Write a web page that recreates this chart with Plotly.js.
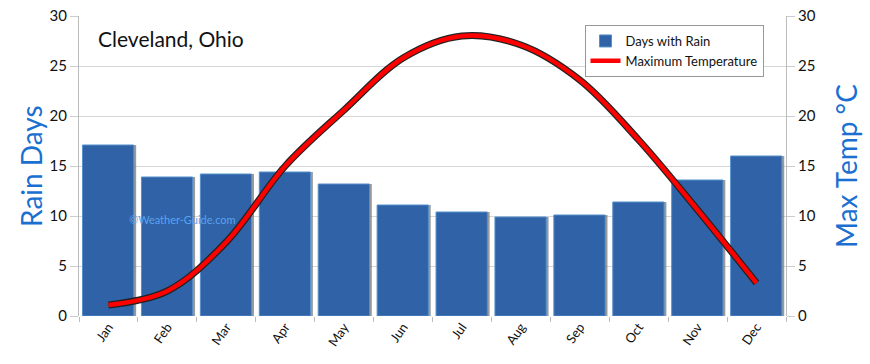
<!DOCTYPE html>
<html><head><meta charset="utf-8">
<script src="https://cdn.plot.ly/plotly-3.0.1.min.js"></script>
<style>html,body{margin:0;padding:0;background:#fff}#chart{width:870px;height:364px}</style>
</head><body><div id="chart"></div>
<script>
const months = ["Jan","Feb","Mar","Apr","May","Jun","Jul","Aug","Sep","Oct","Nov","Dec"];
const rainDays = [17.1, 13.9, 14.2, 14.4, 13.2, 11.1, 10.4, 9.9, 10.1, 11.4, 13.6, 16.0];
const maxTemp = [1.1, 2.5, 7.4, 15.0, 20.6, 25.8, 28.0, 27.1, 23.6, 17.6, 10.6, 3.3];

const font = "Lato, 'Open Sans', sans-serif";
const traces = [
  {type:"bar", x:months, y:rainDays, name:"shadow", showlegend:false, hoverinfo:"skip",
   marker:{color:"rgba(120,120,120,0.75)"}, offset:-0.39, width:0.86, yaxis:"y"},
  {type:"bar", x:months, y:rainDays, name:"Days with Rain",
   marker:{color:"#2f62a6", line:{color:"#5590cb", width:1}}, offset:-0.44, width:0.87, yaxis:"y"},
  {type:"scatter", mode:"lines", x:months, y:maxTemp, yaxis:"y2", showlegend:false, hoverinfo:"skip",
   line:{color:"#222", width:7, shape:"spline", smoothing:1}},
  {type:"scatter", mode:"lines", x:months, y:maxTemp, yaxis:"y2", name:"Maximum Temperature",
   line:{color:"#ff0000", width:4.5, shape:"spline", smoothing:1}}
];
const layout = {
  width:870, height:364,
  margin:{l:79, r:84, t:16, b:48},
  paper_bgcolor:"#fff", plot_bgcolor:"#fff",
  font:{family:font, size:13, color:"#111"},
  barmode:"overlay",
  showlegend:true,
  legend:{x:0.715, y:0.97, xanchor:"left", yanchor:"top", bgcolor:"#fff",
          bordercolor:"#999", borderwidth:1, font:{size:13, color:"#111"}, traceorder:"normal"},
  xaxis:{tickangle:-55, ticks:"outside", tickson:"boundaries", ticklen:5, tickcolor:"#bbb",
         showline:false, showgrid:false, tickfont:{size:13}},
  yaxis:{range:[0,30], dtick:5, showgrid:true, gridcolor:"#d6d6d6", showline:true, linecolor:"#bbb",
         ticks:"outside", ticklen:8, tickcolor:"#ccc", tickfont:{size:15}, zeroline:false,
         title:{text:""}},
  yaxis2:{range:[0,30], dtick:5, overlaying:"y", side:"right", showgrid:false, showline:true,
          linecolor:"#bbb", ticks:"outside", ticklen:8, tickcolor:"#ccc", tickfont:{size:15}, zeroline:false,
          title:{text:"Max Temp °C", font:{size:28, color:"#1a6fd0"}, standoff:22}},
  annotations:[
    {xref:"paper", yref:"paper", x:-0.068, y:0.5, xanchor:"center", yanchor:"middle", showarrow:false,
     textangle:-90, text:"Rain Days", font:{size:28, color:"#1a6fd0"}},
    {xref:"paper", yref:"paper", x:0.024, y:0.925, xanchor:"left", yanchor:"middle", showarrow:false,
     text:"Cleveland, Ohio", font:{size:21, color:"#111"}},
    {xref:"paper", yref:"paper", x:0.068, y:0.32, xanchor:"left", yanchor:"middle", showarrow:false,
     text:"©Weather-Guide.com", font:{size:11, color:"#5aa2f2"}}
  ]
};
Plotly.newPlot("chart", traces, layout, {displayModeBar:false, staticPlot:true});
</script></body></html>
